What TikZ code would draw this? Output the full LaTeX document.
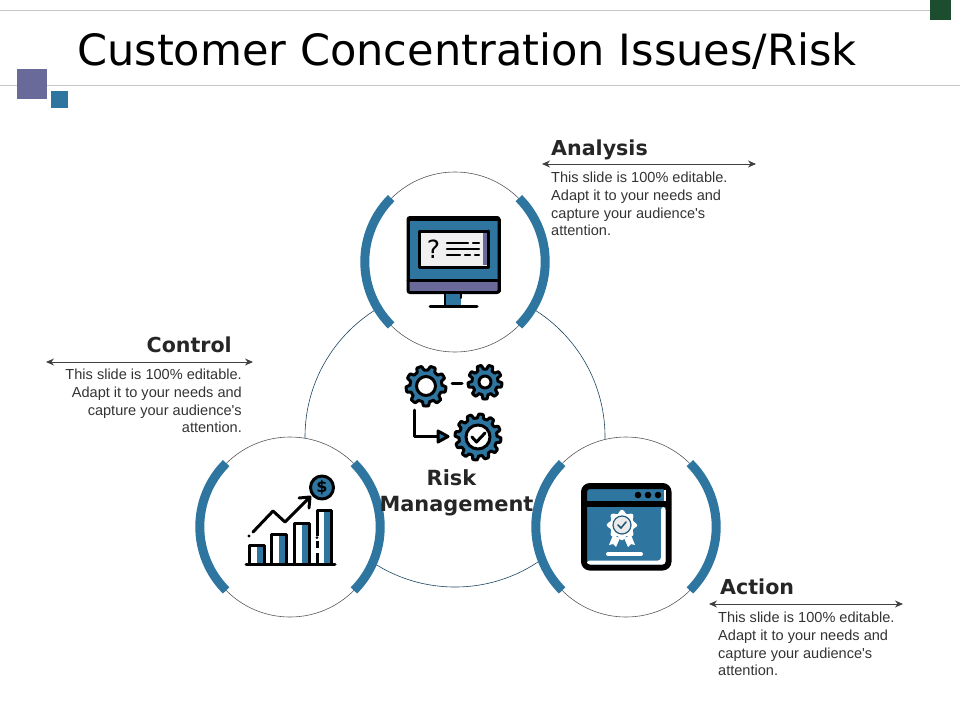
\documentclass[tikz,border=0pt]{standalone}
\usepackage{fontspec}
\setmainfont{DejaVu Sans}
\newfontfamily\bodyfont{Liberation Sans}
\usetikzlibrary{arrows.meta}
\definecolor{bandblue}{HTML}{2E75A0}
\definecolor{plum}{HTML}{6A6A9A}
\definecolor{darkgreen}{HTML}{1B4D2E}
\definecolor{inkgray}{HTML}{262626}
\newcommand{\gearicon}[4]{
\draw [icon, fill=bandblue] plot [domain=0:360, samples=161] ({#1+(#3-2+2*max(-1,min(1,2.5*sin(#4*\x))))*cos(\x)}, {#2+(#3-2+2*max(-1,min(1,2.5*sin(#4*\x))))*sin(\x)}) -- cycle;
}
\tikzset{
icon/.style={line width=3pt, draw=black, line join=round, line cap=round},
ring/.style={circle, draw=black!65, fill=white, line width=0.6pt, minimum size=180pt, inner sep=0},
band/.style={draw=bandblue, line width=9pt},
spread/.style={draw=black!75, line width=1pt, {Stealth[length=8pt,width=7pt]}-{Stealth[length=8pt,width=7pt]}},
heading/.style={font=\fontsize{20.6}{24}\selectfont\bfseries, text=inkgray, inner sep=0},
blurb/.style={font=\bodyfont\fontsize{14.55}{17.7}\selectfont, text=black!80, inner sep=0},
}
\begin{document}
\begin{tikzpicture}
[x=1pt, y=-1pt]
\useasboundingbox (0, 0) rectangle (960, 720);
% header
\draw [black!22, line width=1pt] (0, 10.5) -- (930, 10.5);
\draw [black!22, line width=1pt] (0, 85.5) -- (960, 85.5);
\fill [darkgreen] (930, 0) rectangle (951, 20);
\fill [plum] (17, 69) rectangle (47, 99);
\fill [bandblue] (51, 91) rectangle (68, 108);
\node (title) [anchor=base west, inner sep=0, font=\fontsize{43.1}{50}\selectfont] at (77, 65) {Customer Concentration Issues/Risk};
% rings
\node (hub) [circle, draw=bandblue!60!black, line width=0.6pt, minimum size=300pt, inner sep=0] at (455, 437) {};
\node (topring) [ring] at (455, 262) {};
\node (leftring) [ring] at (290, 527) {};
\node (rightring) [ring] at (626, 527) {};
\foreach \ringname in {topring, leftring, rightring} {
\draw [band] (\ringname.135) arc (225:135:90);
\draw [band] (\ringname.45) arc (-45:45:90);
}
% monitor
\draw [icon, fill=bandblue] (408, 219) -- (408, 291) -- (499, 291) -- (499, 219) -- cycle;
\fill [plum] (409, 281) rectangle (498, 291);
\draw [icon, rounded corners=2pt] (408, 217.5) rectangle (499, 292.5);
\draw [icon] (408, 280) -- (499, 280);
\draw [icon, fill=white!94!black] (419.5, 231) rectangle (488, 267);
\fill [plum] (483, 233) rectangle (486.5, 265);
\draw [icon] (488, 231) -- (488, 267);
\node (qmark) [inner sep=0, font=\fontsize{25}{25}\selectfont] at (433.5, 249) {?};
\draw [icon, line width=2.4pt] (447, 243) -- (468, 243) (473, 243) -- (479, 243);
\draw [icon, line width=2.4pt] (447, 249) -- (479, 249);
\draw [icon, line width=2.4pt] (447, 255) -- (460, 255) (465, 255) -- (470, 255) (475, 255) -- (479, 255);
\fill [bandblue] (445, 294) rectangle (461, 305);
\draw [icon, line width=2pt] (445, 294) -- (445, 305) (461, 294) -- (461, 298);
\draw [icon] (430, 306) -- (477, 306);
% gears
\gearicon{426}{386}{20}{9}
\draw [icon, fill=white] (426, 386) circle (9.5);
\gearicon{485}{382}{17}{9}
\draw [icon, fill=white] (485, 382) circle (6);
\gearicon{478}{437}{23}{12}
\draw [icon, fill=white] (478, 437) circle (12);
\draw [icon] (472, 437) -- (476.5, 442) -- (485, 433);
\draw [icon] (452, 383) -- (462, 383);
\draw [icon] (414.5, 410) -- (414.5, 436.5) -- (440, 436.5);
\draw [icon, fill=bandblue] (438, 431) -- (448, 436.5) -- (438, 442) -- cycle;
% chart
\foreach \barleft/\barright/\bartop in {249/264/545, 271/286/534, 294/309/523, 317/331/510} {
\fill [bandblue] ({(\barleft+\barright)/2}, \bartop) rectangle (\barright, 564);
\draw [icon] (\barleft, 564) -- (\barleft, \bartop) -- (\barright, \bartop) -- (\barright, 564);
}
\draw [white, line width=3.4pt] (317, 536) -- (317, 541) (317, 548) -- (317, 553);
\fill (317, 537.5) circle (1.5);
\draw [icon] (246, 564.5) -- (335, 564.5);
\fill (249, 536) circle (1.6);
\draw [icon] (253, 532) -- (273, 511) -- (285, 522) -- (309, 498);
\draw [icon] (299, 498) -- (310, 497) -- (309, 508);
\draw [icon, fill=bandblue] (322, 487.5) circle (11.5);
\node (coin) [inner sep=0, font=\fontsize{16}{16}\selectfont\bfseries] at (322, 487.5) {\$};
% browser
\draw [black, fill=bandblue, line width=6pt, rounded corners=6pt] (584, 486) rectangle (668.5, 567.5);
\fill [white] (663.5, 490) rectangle (665.5, 501);
\fill [white, rounded corners=3pt] (587, 560.5) -- (661, 560.5) -- (661, 507) -- (665.5, 507) -- (665.5, 564.5) -- (587, 564.5) -- cycle;
\draw [black, line width=6pt] (583, 504) -- (669, 504);
\foreach \dotx in {638, 648, 658} {
\fill (\dotx, 495) circle (3.3);
}
\fill [white] plot [smooth cycle, domain=0:345, samples=48] ({622+(13.5+1.8*cos(8*\x))*cos(\x)}, {525+(13.5+1.8*cos(8*\x))*sin(\x)});
\fill [white] (613, 535) -- (609, 545) -- (613, 544) -- (616, 547) -- (620, 538) -- cycle;
\fill [white] (631, 535) -- (635, 545) -- (631, 544) -- (628, 547) -- (624, 538) -- cycle;
\draw [bandblue!80!black, line width=1.2pt, fill=white!92!black] (622, 525) circle (9);
\draw [bandblue!70!black, line width=1.5pt, line cap=round] (618, 525) -- (621, 528) -- (626, 522);
\draw [white, line width=4pt, line cap=round] (608, 554) -- (641, 554);
% texts
\node (hubname) [align=center, inner sep=0, font=\fontsize{20.9}{26}\selectfont\bfseries, text=inkgray] at (456.5, 493) {Risk\hspace*{10pt}\\Management};
\node (analysishead) [heading, anchor=base west] at (551, 155) {Analysis};
\node (controlhead) [heading, anchor=base east] at (232, 352) {Control};
\node (actionhead) [heading, anchor=base west] at (720, 594) {Action};
\node (analysistext) [blurb, align=left, anchor=north west] at (551, 172) {This slide is 100\% editable.\\Adapt it to your needs and\\capture your audience's\\attention.};
\node (controltext) [blurb, align=right, anchor=north east] at (242, 369) {This slide is 100\% editable.\\Adapt it to your needs and\\capture your audience's\\attention.};
\node (actiontext) [blurb, align=left, anchor=north west] at (718, 612) {This slide is 100\% editable.\\Adapt it to your needs and\\capture your audience's\\attention.};
\coordinate (analysisa) at (542, 164);
\coordinate (analysisb) at (756, 164);
\coordinate (controla) at (46, 362);
\coordinate (controlb) at (253, 362);
\coordinate (actiona) at (709, 604);
\coordinate (actionb) at (903, 604);
\draw [spread] (analysisa) -- (analysisb);
\draw [spread] (controla) -- (controlb);
\draw [spread] (actiona) -- (actionb);
\end{tikzpicture}
\end{document}
